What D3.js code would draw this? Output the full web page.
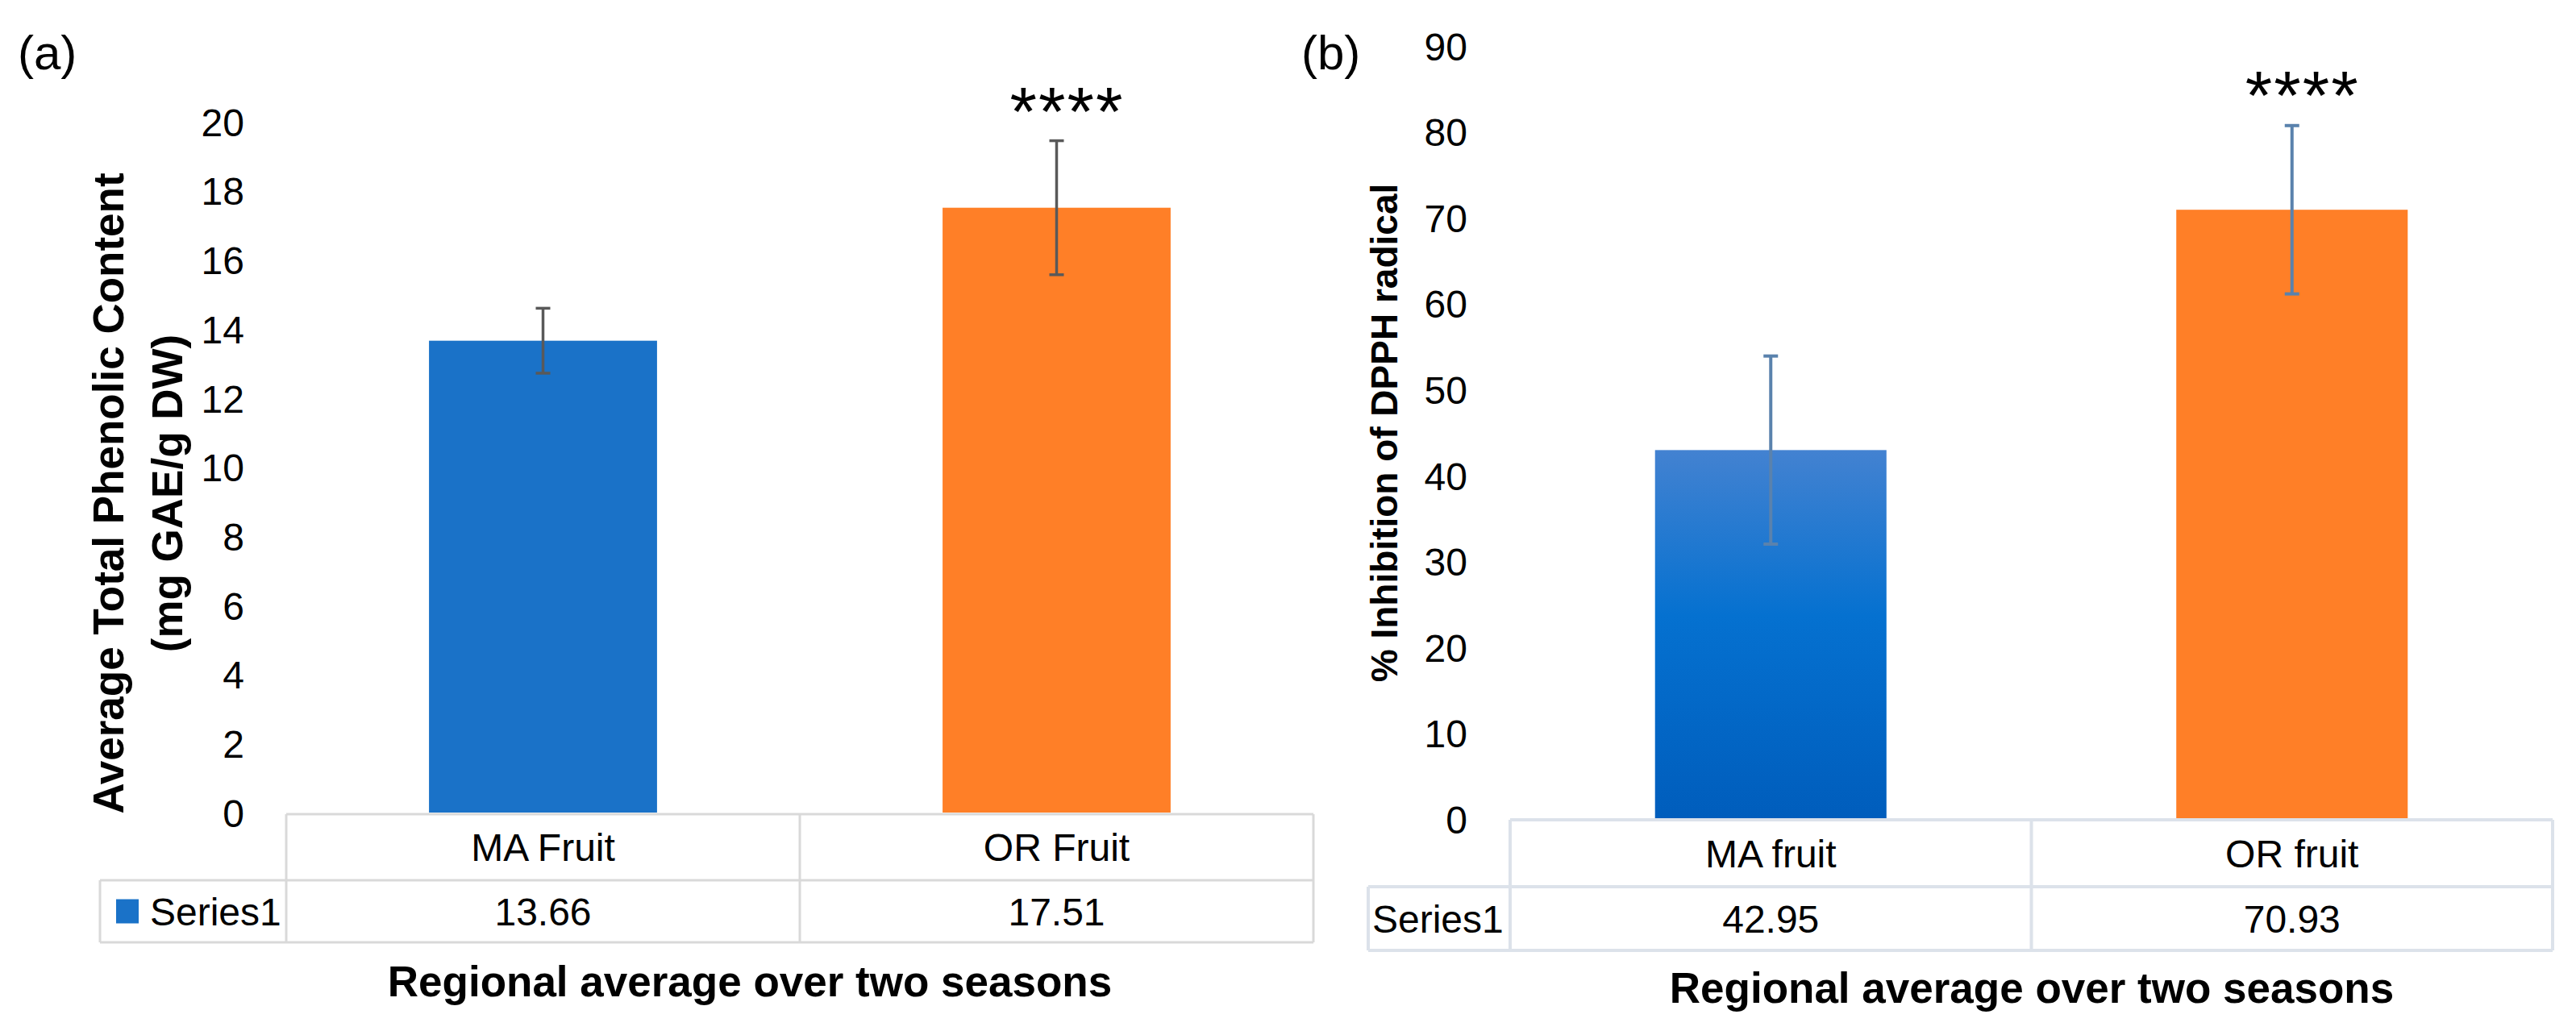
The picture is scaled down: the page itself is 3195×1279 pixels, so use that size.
<!DOCTYPE html>
<html>
<head>
<meta charset="utf-8">
<script src="https://cdn.jsdelivr.net/npm/d3@7"></script>
<style>
  body { margin: 0; background: #fff; }
  text { font-family: "Liberation Sans", Arial, sans-serif; }
</style>
</head>
<body>
<script>
const W = 3195
const H = 1279

// data
const seriesName = "Series1"
const categoriesA = ["MA Fruit", "OR Fruit"]
const valuesA = [13.66, 17.51]
const errorsA = [0.94, 1.94]
const ticksA = [0, 2, 4, 6, 8, 10, 12, 14, 16, 18, 20]
const categoriesB = ["MA fruit", "OR fruit"]
const valuesB = [42.95, 70.93]
const errorsB = [10.95, 9.8]
const ticksB = [0, 10, 20, 30, 40, 50, 60, 70, 80, 90]
const sigMarks = ["", "****"]

const fmt = d3.format(".2f")

const svg = d3.select("body").append("svg")
	.attr("width", W).attr("height", H)
	.style("display", "block")

const defs = svg.append("defs")
const grad = defs.append("linearGradient")
	.attr("id", "blueB").attr("x1", 0).attr("y1", 0).attr("x2", 0).attr("y2", 1)
grad.append("stop").attr("offset", "0%").attr("stop-color", "#4382d1")
grad.append("stop").attr("offset", "45%").attr("stop-color", "#0571d0")
grad.append("stop").attr("offset", "100%").attr("stop-color", "#005dbc")

function panel(o) {
	const g = svg.append("g")

	const x = d3.scaleBand()
		.domain(o.cats)
		.range([o.x0, o.x1])
		.paddingInner(0.556)
		.paddingOuter(0.278)

	const y = d3.scaleLinear()
		.domain([0, o.ymax])
		.range([o.y0, o.ytop])

	// y axis: labels only
	const ax = g.append("g")
		.attr("transform", `translate(${o.tickX},0)`)
		.call(d3.axisLeft(y).tickValues(o.ticks).tickSize(0).tickPadding(0))
	ax.select(".domain").remove()
	ax.selectAll("text")
		.attr("font-family", "Liberation Sans, Arial, sans-serif")
		.attr("font-size", 48)
		.attr("fill", "#000")
		.attr("dy", "0.36em")

	// bars
	g.selectAll("rect.bar")
		.data(o.values)
		.join("rect")
		.attr("class", "bar")
		.attr("x", (d, i) => x(o.cats[i]))
		.attr("width", x.bandwidth())
		.attr("y", d => y(d))
		.attr("height", d => y(0) - y(d))
		.attr("fill", (d, i) => o.colors[i])

	// error bars
	const eb = g.selectAll("g.err")
		.data(o.values)
		.join("g")
		.attr("class", "err")
		.attr("stroke", o.errColor)
		.attr("stroke-width", o.errWidth)
	eb.append("line")
		.attr("x1", (d, i) => x(o.cats[i]) + x.bandwidth() / 2)
		.attr("x2", (d, i) => x(o.cats[i]) + x.bandwidth() / 2)
		.attr("y1", (d, i) => y(d + o.errors[i]))
		.attr("y2", (d, i) => y(d - o.errors[i]))
	;[1, -1].forEach(s => {
		eb.append("line")
			.attr("x1", (d, i) => x(o.cats[i]) + x.bandwidth() / 2 - 9)
			.attr("x2", (d, i) => x(o.cats[i]) + x.bandwidth() / 2 + 9)
			.attr("y1", (d, i) => y(d + s * o.errors[i]))
			.attr("y2", (d, i) => y(d + s * o.errors[i]))
	})

	// significance marks
	g.selectAll("text.sig")
		.data(o.sig)
		.join("text")
		.attr("class", "sig")
		.attr("x", (d, i) => x(o.cats[i]) + x.bandwidth() / 2 + 13)
		.attr("y", o.sigY)
		.attr("text-anchor", "middle")
		.attr("font-size", 86)
		.attr("letter-spacing", 2)
		.attr("fill", "#000")
		.text(d => d)

	// data table under the plot
	const step = x.step()
	const cols = d3.range(o.cats.length + 1).map(i => o.x0 + i * step)
	const tl = g.append("g")
		.attr("stroke", o.gridColor)
		.attr("stroke-width", o.gridWidth)
	tl.append("line").attr("x1", o.x0).attr("x2", o.x1).attr("y1", o.tTop).attr("y2", o.tTop)
	tl.append("line").attr("x1", o.rowLeft).attr("x2", o.x1).attr("y1", o.tMid).attr("y2", o.tMid)
	tl.append("line").attr("x1", o.rowLeft).attr("x2", o.x1).attr("y1", o.tBot).attr("y2", o.tBot)
	tl.append("line").attr("x1", o.rowLeft).attr("x2", o.rowLeft).attr("y1", o.tMid).attr("y2", o.tBot)
	tl.selectAll("line.col")
		.data(cols)
		.join("line")
		.attr("class", "col")
		.attr("x1", d => d).attr("x2", d => d)
		.attr("y1", o.tTop).attr("y2", o.tBot)

	g.selectAll("text.cat")
		.data(o.cats)
		.join("text")
		.attr("class", "cat")
		.attr("x", d => x(d) + x.bandwidth() / 2)
		.attr("y", (o.tTop + o.tMid) / 2)
		.attr("dy", "0.36em")
		.attr("text-anchor", "middle")
		.attr("font-size", 48)
		.text(d => d)

	g.selectAll("text.val")
		.data(o.values)
		.join("text")
		.attr("class", "val")
		.attr("x", (d, i) => x(o.cats[i]) + x.bandwidth() / 2)
		.attr("y", (o.tMid + o.tBot) / 2)
		.attr("dy", "0.36em")
		.attr("text-anchor", "middle")
		.attr("font-size", 48)
		.text(d => fmt(d))

	if (o.key) {
		g.append("rect")
			.attr("x", o.rowLeft + 20).attr("y", (o.tMid + o.tBot) / 2 - 15)
			.attr("width", 28).attr("height", 30)
			.attr("fill", o.colors[0])
	}
	g.append("text")
		.attr("x", o.rowLeft + (o.key ? 62 : 5))
		.attr("y", (o.tMid + o.tBot) / 2)
		.attr("dy", "0.36em")
		.attr("font-size", 48)
		.text(seriesName)

	// titles
	o.yTitle.forEach(t => {
		g.append("text")
			.attr("transform", `translate(${t.x},${o.yTitleY}) rotate(-90)`)
			.attr("text-anchor", "middle")
			.attr("font-size", o.yTitleSize)
			.attr("font-weight", "bold")
			.text(t.text)
	})

	g.append("text")
		.attr("x", o.xTitleX)
		.attr("y", o.xTitleY)
		.attr("text-anchor", "middle")
		.attr("font-size", 53)
		.attr("font-weight", "bold")
		.text("Regional average over two seasons")

	g.append("text")
		.attr("x", o.labelX)
		.attr("y", 86)
		.attr("font-size", 60)
		.text(o.label)
}

panel({
	label: "(a)", labelX: 22,
	cats: categoriesA, values: valuesA, errors: errorsA, ticks: ticksA, sig: sigMarks,
	ymax: 20, x0: 355, x1: 1629, y0: 1008, ytop: 151, tickX: 303,
	colors: ["#1a72c8", "#ff7f27"],
	errColor: "#595959", errWidth: 3.5, sigY: 168,
	gridColor: "#d9d9d9", gridWidth: 3,
	tTop: 1010, tMid: 1092, tBot: 1169, rowLeft: 124, key: true,
	yTitle: [{ text: "Average Total Phenolic Content", x: 153 }, { text: "(mg GAE/g DW)", x: 226 }],
	yTitleY: 612, yTitleSize: 53,
	xTitleX: 930, xTitleY: 1236
})

panel({
	label: "(b)", labelX: 1614,
	cats: categoriesB, values: valuesB, errors: errorsB, ticks: ticksB, sig: sigMarks,
	ymax: 90, x0: 1873, x1: 3166, y0: 1016, ytop: 57, tickX: 1820,
	colors: ["url(#blueB)", "#ff7f27"],
	errColor: "#5a82ad", errWidth: 4, sigY: 148,
	gridColor: "#dce2ea", gridWidth: 4,
	tTop: 1017, tMid: 1100, tBot: 1179, rowLeft: 1697, key: false,
	yTitle: [{ text: "% Inhibition of DPPH radical", x: 1733 }],
	yTitleY: 537, yTitleSize: 46,
	xTitleX: 2520, xTitleY: 1244
})
</script>
</body>
</html>
